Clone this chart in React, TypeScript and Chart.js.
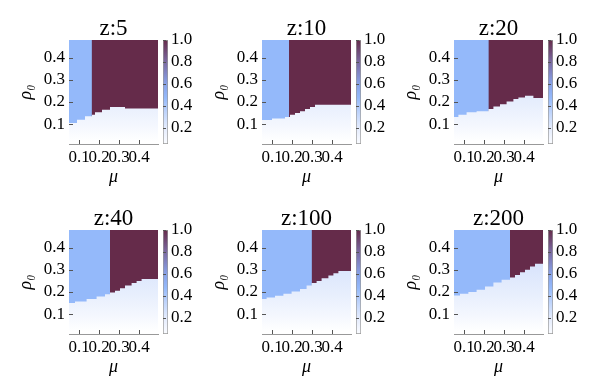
import React, { useEffect, useRef } from 'react';
import { Chart, registerables } from 'chart.js';

Chart.register(...registerables);

// ---------- data ----------
const TITLES = ['z:5', 'z:10', 'z:20', 'z:40', 'z:100', 'z:200'];
// mu value where the dark (value 1.0) region begins
const MU_CRIT = [0.163, 0.185, 0.222, 0.255, 0.298, 0.33];

// lower boundary of the coloured region: step starts (mu) and rho0 level
const Z5_MU = [0.05, 0.09, 0.13, 0.165, 0.18, 0.215, 0.255, 0.33, 0.39, 0.5];
const Z5_RHO = [0.07, 0.105, 0.12, 0.135, 0.142, 0.153, 0.165, 0.177, 0.17, 0.17];
const Z10_MU = [0.05, 0.1, 0.165, 0.19, 0.215, 0.24, 0.265, 0.29, 0.315, 0.355, 0.5];
const Z10_RHO = [0.103, 0.118, 0.125, 0.132, 0.142, 0.15, 0.158, 0.168, 0.177, 0.187, 0.187];
const Z20_MU = [0.05, 0.072, 0.113, 0.163, 0.222, 0.247, 0.28, 0.313, 0.347, 0.372, 0.405, 0.447, 0.48, 0.5];
const Z20_RHO = [0.123, 0.132, 0.142, 0.153, 0.158, 0.168, 0.18, 0.19, 0.202, 0.213, 0.22, 0.228, 0.218, 0.218];
const Z40_MU = [0.05, 0.08, 0.138, 0.188, 0.23, 0.255, 0.28, 0.305, 0.33, 0.363, 0.388, 0.413, 0.438, 0.5];
const Z40_RHO = [0.142, 0.15, 0.157, 0.168, 0.18, 0.19, 0.198, 0.205, 0.217, 0.229, 0.24, 0.25, 0.259, 0.259];
const Z100_MU = [0.05, 0.073, 0.115, 0.157, 0.198, 0.24, 0.273, 0.298, 0.323, 0.348, 0.382, 0.407, 0.432, 0.457, 0.5];
const Z100_RHO = [0.16, 0.168, 0.175, 0.183, 0.192, 0.202, 0.213, 0.229, 0.24, 0.25, 0.262, 0.274, 0.285, 0.295, 0.295];
const Z200_MU = [0.05, 0.08, 0.122, 0.163, 0.205, 0.247, 0.288, 0.33, 0.355, 0.38, 0.405, 0.43, 0.455, 0.48, 0.5];
const Z200_RHO = [0.175, 0.184, 0.192, 0.2, 0.21, 0.225, 0.243, 0.255, 0.265, 0.277, 0.289, 0.3, 0.315, 0.327, 0.327];

const BOUNDARY_MU = [Z5_MU, Z10_MU, Z20_MU, Z40_MU, Z100_MU, Z200_MU];
const BOUNDARY_RHO = [Z5_RHO, Z10_RHO, Z20_RHO, Z40_RHO, Z100_RHO, Z200_RHO];

const MU_TICKS = [0.1, 0.2, 0.3, 0.4];
const RHO_TICKS = [0.1, 0.2, 0.3, 0.4];
const CB_TICKS = [0.2, 0.4, 0.6, 0.8, 1.0];

const MU_MIN = 0.05;
const MU_MAX = 0.495;
const RHO_MIN = 0.01;
const RHO_MAX = 0.48;
const CB_MIN = 0.05;
const CB_MAX = 1.0;

// colour map (value -> colour)
const CMAP_VALUES = [0.05, 0.2, 0.35, 0.47, 0.6, 0.8, 1.0];
const CMAP_COLORS = ['#fbfcff', '#e3ebfd', '#bcd2fb', '#94b9fa', '#88a2e8', '#7b6aa2', '#652b4a'];
const BLUE = '#94b9fa';
const MAROON = '#652b4a';

const FONT = "'Liberation Serif', 'Times New Roman', serif";

// ---------- layout ----------
const COL_X = [0, 193, 385];
const ROW_Y = [0, 190];

const inwardTicks = {
  id: 'inwardTicks',
  afterDraw(chart: any) {
    const { ctx, chartArea, scales } = chart;
    ctx.save();
    ctx.strokeStyle = '#555';
    ctx.lineWidth = 1;
    const len = 4;
    scales.x.ticks.forEach((t: any) => {
      const px = Math.round(scales.x.getPixelForValue(t.value)) + 0.5;
      ctx.beginPath();
      ctx.moveTo(px, chartArea.bottom);
      ctx.lineTo(px, chartArea.bottom - len);
      ctx.stroke();
    });
    scales.y.ticks.forEach((t: any) => {
      const py = Math.round(scales.y.getPixelForValue(t.value)) + 0.5;
      ctx.beginPath();
      ctx.moveTo(chartArea.left, py);
      ctx.lineTo(chartArea.left + len, py);
      ctx.stroke();
    });
    ctx.restore();
  },
};

const cbTicks = {
  id: 'cbTicks',
  afterDraw(chart: any) {
    const { ctx, chartArea, scales } = chart;
    ctx.save();
    ctx.strokeStyle = '#555';
    ctx.lineWidth = 1;
    scales.y.ticks.forEach((t: any) => {
      const py = Math.round(scales.y.getPixelForValue(t.value)) + 0.5;
      ctx.beginPath();
      ctx.moveTo(chartArea.left, py);
      ctx.lineTo(chartArea.left + 3, py);
      ctx.stroke();
    });
    ctx.restore();
  },
};

function lowFill(c: any) {
  const chart = c.chart;
  const area = chart.chartArea;
  if (!area) return '#ffffff';
  const y = chart.scales.y;
  const g = chart.ctx.createLinearGradient(0, y.getPixelForValue(0.32), 0, y.getPixelForValue(0.02));
  g.addColorStop(0, '#d9e4fc');
  g.addColorStop(0.45, '#e8effd');
  g.addColorStop(0.75, '#f4f7fe');
  g.addColorStop(1, '#ffffff');
  return g;
}

function cbFill(c: any) {
  const chart = c.chart;
  const area = chart.chartArea;
  if (!area) return BLUE;
  const y = chart.scales.y;
  const y0 = y.getPixelForValue(CB_MIN);
  const y1 = y.getPixelForValue(CB_MAX);
  const g = chart.ctx.createLinearGradient(0, y0, 0, y1);
  CMAP_VALUES.forEach((v, i) => {
    g.addColorStop((v - CB_MIN) / (CB_MAX - CB_MIN), CMAP_COLORS[i]);
  });
  return g;
}

function Panel({ index }: { index: number }) {
  const mainRef = useRef<HTMLCanvasElement>(null);
  const cbRef = useRef<HTMLCanvasElement>(null);

  useEffect(() => {
    const mu = BOUNDARY_MU[index];
    const rho = BOUNDARY_RHO[index];
    const main = new Chart(mainRef.current as HTMLCanvasElement, {
      type: 'line',
      data: {
        datasets: [
          {
            data: mu.map((m, i) => ({ x: m, y: rho[i] })),
            stepped: 'after',
            fill: 'start',
            backgroundColor: lowFill,
            borderColor: 'transparent',
            borderWidth: 1,
            pointRadius: 0,
          },
          {
            data: [
              { x: MU_CRIT[index], y: RHO_MAX },
              { x: 0.5, y: RHO_MAX },
            ],
            fill: 'start',
            backgroundColor: MAROON,
            borderColor: 'transparent',
            borderWidth: 1,
            pointRadius: 0,
          },
          {
            data: [
              { x: MU_MIN, y: RHO_MAX },
              { x: 0.5, y: RHO_MAX },
            ],
            fill: 'start',
            backgroundColor: BLUE,
            borderColor: 'transparent',
            borderWidth: 1,
            pointRadius: 0,
          },
        ],
      } as any,
      options: {
        responsive: false,
        animation: false,
        layout: { padding: { left: 0, right: 2, top: 0, bottom: 0 } },
        plugins: {
          legend: { display: false },
          tooltip: { enabled: false },
          title: {
            display: true,
            text: TITLES[index],
            fullSize: false,
            color: '#000',
            font: { family: FONT, size: 23, weight: 'normal', lineHeight: 1 },
            padding: { top: 17, bottom: 0 },
          } as any,
        },
        scales: {
          x: {
            type: 'linear',
            min: MU_MIN,
            max: MU_MAX,
            z: 1,
            afterBuildTicks: (s: any) => {
              s.ticks = MU_TICKS.map((v) => ({ value: v }));
            },
            afterFit: (s: any) => {
              s.height = 46;
            },
            ticks: {
              autoSkip: false,
              maxRotation: 0,
              minRotation: 0,
              padding: 3,
              color: '#000',
              font: { family: FONT, size: 17 },
              callback: (v: any) => String(Number(v).toFixed(1)),
            },
            grid: { display: false, drawTicks: false },
            border: { display: true, color: '#999', width: 1 },
            title: {
              display: true,
              text: 'μ',
              color: '#000',
              font: { family: FONT, size: 18, style: 'italic' },
              padding: { top: 0, bottom: 2 },
            },
          },
          y: {
            type: 'linear',
            min: RHO_MIN,
            max: RHO_MAX,
            z: 1,
            afterBuildTicks: (s: any) => {
              s.ticks = RHO_TICKS.map((v) => ({ value: v }));
            },
            afterFit: (s: any) => {
              s.width = 69;
            },
            ticks: {
              autoSkip: false,
              padding: 4,
              color: '#000',
              font: { family: FONT, size: 17 },
              callback: (v: any) => String(Number(v).toFixed(1)),
            },
            grid: { display: false, drawTicks: false },
            border: { display: true, color: '#999', width: 1 },
            title: {
              display: true,
              text: 'ρ₀',
              color: '#000',
              font: { family: FONT, size: 18, style: 'italic' },
              padding: { top: 15, bottom: 0 },
            },
          },
        },
      } as any,
      plugins: [inwardTicks],
    });

    const cb = new Chart(cbRef.current as HTMLCanvasElement, {
      type: 'bar',
      data: {
        labels: [''],
        datasets: [
          {
            data: [[CB_MIN, CB_MAX]],
            backgroundColor: cbFill,
            borderColor: '#999',
            borderWidth: 1,
            borderSkipped: false,
            barPercentage: 1,
            categoryPercentage: 1,
          },
        ],
      } as any,
      options: {
        responsive: false,
        animation: false,
        layout: { padding: { top: 40, bottom: 46, left: 3, right: 0 } },
        plugins: { legend: { display: false }, tooltip: { enabled: false } },
        scales: {
          x: { display: false },
          y: {
            position: 'right',
            min: CB_MIN,
            max: CB_MAX,
            afterBuildTicks: (s: any) => {
              s.ticks = CB_TICKS.map((v) => ({ value: v }));
            },
            afterFit: (s: any) => {
              s.width = 25;
            },
            ticks: {
              autoSkip: false,
              padding: 3,
              color: '#000',
              font: { family: FONT, size: 17 },
              callback: (v: any) => Number(v).toFixed(1),
            },
            grid: { display: false, drawTicks: false },
            border: { display: false },
          },
        },
      } as any,
      plugins: [cbTicks],
    });

    return () => {
      main.destroy();
      cb.destroy();
    };
  }, [index]);

  const left = COL_X[index % 3];
  const top = ROW_Y[Math.floor(index / 3)];
  return (
    <div style={{ position: 'absolute', left, top, width: 200, height: 190 }}>
      <canvas ref={mainRef} width={160} height={190} style={{ position: 'absolute', left: 0, top: 0 }} />
      <canvas ref={cbRef} width={33} height={190} style={{ position: 'absolute', left: 160, top: 0 }} />
    </div>
  );
}

export default function App() {
  return (
    <div style={{ position: 'fixed', left: 0, top: 0, width: 598, height: 391, background: '#fff', overflow: 'hidden' }}>
      {TITLES.map((t, i) => (
        <Panel key={t} index={i} />
      ))}
    </div>
  );
}
